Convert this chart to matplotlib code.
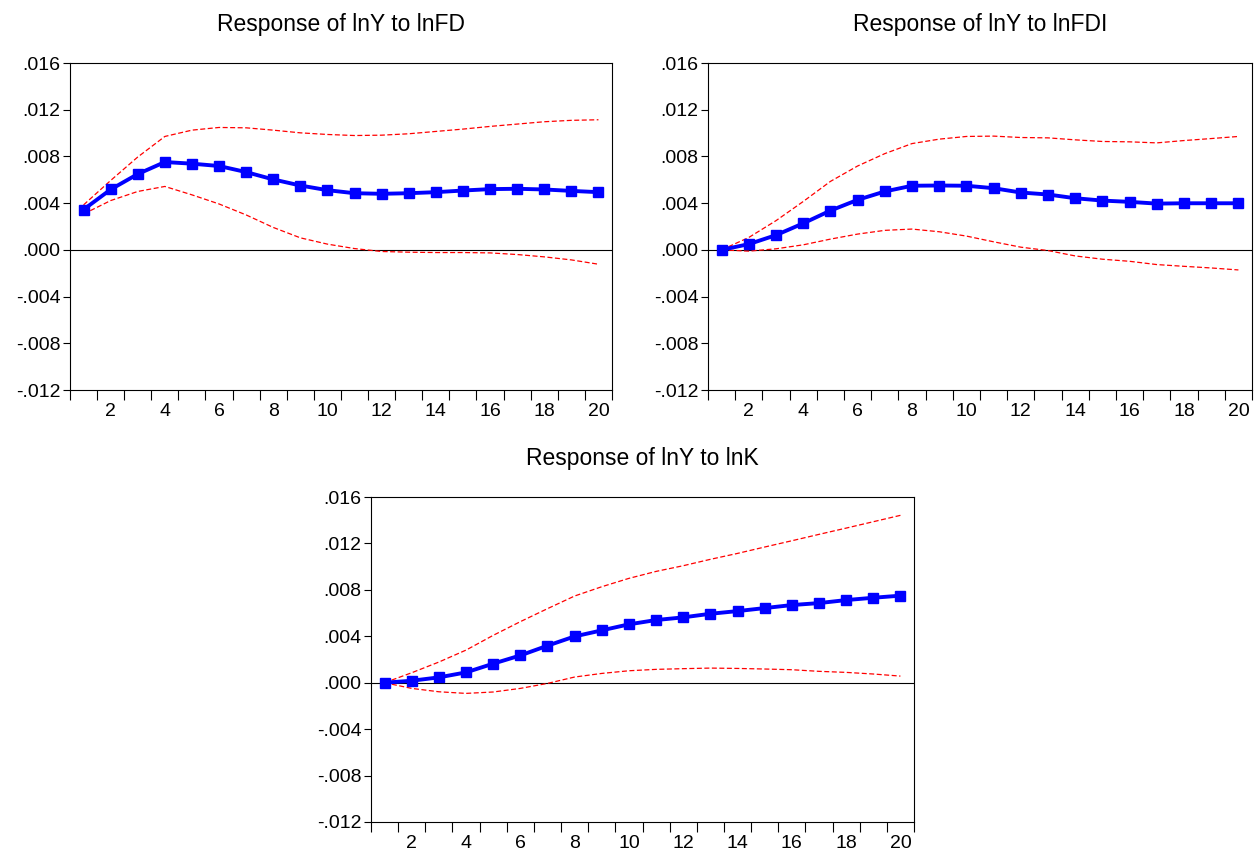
import matplotlib
matplotlib.use("Agg")
import matplotlib.pyplot as plt
import numpy as np

plt.rcParams['font.family'] = ['Liberation Sans', 'DejaVu Sans']

periods = list(range(1, 21))

# Response of lnY to lnFD (values in units of 0.001)
fd_resp = [3.45, 5.17, 6.49, 7.52, 7.38, 7.18, 6.66, 6.03, 5.51, 5.11,
           4.85, 4.80, 4.85, 4.94, 5.08, 5.20, 5.23, 5.17, 5.05, 4.94]
fd_upper = [3.85, 5.94, 7.95, 9.71, 10.25, 10.48, 10.45, 10.25, 10.02, 9.88,
            9.79, 9.82, 9.94, 10.14, 10.34, 10.57, 10.77, 10.97, 11.09, 11.14]
fd_lower = [3.07, 4.22, 5.00, 5.43, 4.71, 3.93, 2.99, 1.92, 1.03, 0.49,
            0.11, -0.14, -0.20, -0.23, -0.23, -0.26, -0.40, -0.60, -0.86, -1.23]

# Response of lnY to lnFDI
fdi_resp = [0.00, 0.49, 1.26, 2.27, 3.36, 4.28, 5.00, 5.49, 5.51, 5.49,
            5.28, 4.91, 4.74, 4.42, 4.22, 4.11, 3.96, 3.99, 3.99, 3.99]
fdi_upper = [0.00, 1.06, 2.50, 4.14, 5.86, 7.18, 8.24, 9.10, 9.48, 9.71,
             9.74, 9.62, 9.59, 9.42, 9.28, 9.25, 9.16, 9.36, 9.53, 9.71]
fdi_lower = [0.00, -0.11, 0.09, 0.43, 0.92, 1.35, 1.67, 1.78, 1.55, 1.18,
             0.69, 0.23, -0.06, -0.52, -0.80, -0.98, -1.26, -1.41, -1.55, -1.72]

# Response of lnY to lnK
k_resp = [0.00, 0.17, 0.46, 0.89, 1.64, 2.35, 3.19, 3.99, 4.51, 5.03,
          5.40, 5.63, 5.94, 6.17, 6.43, 6.69, 6.86, 7.12, 7.32, 7.50]
k_upper = [0.00, 0.86, 1.78, 2.81, 4.08, 5.26, 6.38, 7.47, 8.27, 8.99,
           9.59, 10.08, 10.63, 11.14, 11.69, 12.23, 12.78, 13.32, 13.87, 14.42]
k_lower = [0.00, -0.49, -0.78, -0.92, -0.80, -0.49, -0.06, 0.49, 0.80, 1.03,
           1.15, 1.21, 1.26, 1.23, 1.18, 1.12, 0.98, 0.89, 0.75, 0.57]

titles = ["Response of lnY to lnFD", "Response of lnY to lnFDI", "Response of lnY to lnK"]
yticks = [-0.012, -0.008, -0.004, 0.0, 0.004, 0.008, 0.012, 0.016]
ytick_labels = ["-.012", "-.008", "-.004", ".000", ".004", ".008", ".012", ".016"]

W, H = 1259, 852
fig = plt.figure(figsize=(W / 100, H / 100), dpi=100)

# axes boxes in pixels: left, right, top, bottom
boxes = [(70, 612, 63, 390), (708, 1252, 63, 390), (371, 914, 497, 822)]
series = [(fd_resp, fd_upper, fd_lower),
          (fdi_resp, fdi_upper, fdi_lower),
          (k_resp, k_upper, k_lower)]

for (l, r, t, b), (resp, up, lo), title in zip(boxes, series, titles):
    ax = fig.add_axes([l / W, 1 - b / H, (r - l) / W, (b - t) / H])
    x = np.array(periods)
    ax.plot(x, np.array(up) / 1000, color='#ff0000', lw=0.9, ls=(0, (4, 2)))
    ax.plot(x, np.array(lo) / 1000, color='#ff0000', lw=0.9, ls=(0, (4, 2)))
    ax.plot(x, np.array(resp) / 1000, color='#0000ff', lw=2.8, marker='s',
            ms=6.5, zorder=5)
    ax.axhline(0, color='black', lw=0.8, zorder=1)
    ax.set_xlim(0.5, 20.5)
    ax.set_ylim(-0.012, 0.016)
    ax.set_yticks(yticks)
    ax.set_yticklabels(ytick_labels)
    ax.set_xticks(range(2, 21, 2))
    ax.set_xticks(np.arange(0.5, 21, 1), minor=True)
    ax.tick_params(axis='x', which='major', length=0, labelsize=14, pad=9)
    ax.tick_params(axis='x', which='minor', length=7, width=0.8, direction='out')
    ax.tick_params(axis='y', length=5, width=0.8, direction='out', labelsize=14, pad=2)
    for s in ax.spines.values():
        s.set_linewidth(0.8)
    ax.set_title(title, fontsize=16.5, pad=23)

fig.savefig("out.png", dpi=100)
